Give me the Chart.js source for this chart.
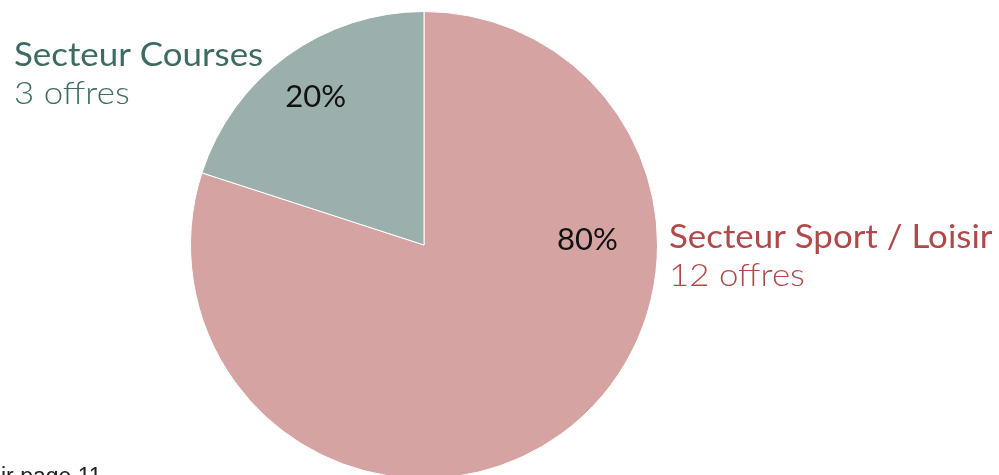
<!DOCTYPE html>
<html>
<head>
<meta charset="utf-8">
<script src="https://cdn.jsdelivr.net/npm/chart.js@4/dist/chart.umd.min.js"></script>
<style>
  html, body { margin: 0; padding: 0; background: #fff; overflow: hidden; }
  #wrap { width: 999px; height: 490px; position: relative; }
</style>
</head>
<body>
<div id="wrap"><canvas id="myChart"></canvas></div>
<script>
//  Data
var sectors = ["Secteur Sport / Loisir", "Secteur Courses"];
var offers = [12, 3];
var sliceColors = ["#d5a3a2", "#9bb0ad"];
var textColors = ["#b04a4a", "#3d6a62"];
var footnote = "Voir page 11";

// label spots, angle (deg, from 3 o'clock) and distance as fraction of radius
var pctSpots = [[-2, 0.70], [-126, 0.79]];
var nameSpots = [[669, 248], [14, 66]];

// text drawn a bit wider than Lato, to look like the original font
function wideText(ctx, txt, x, y, sx) {
  ctx.save();
  ctx.translate(x, y);
  ctx.scale(sx, 1);
  ctx.fillText(txt, 0, 0);
  ctx.restore();
}

var labelsPlugin = {
  id: "sectorLabels",
  afterDatasetsDraw: function(chart) {
    var ctx = chart.ctx;
    var arc = chart.getDatasetMeta(0).data[0];
    var cx = arc.x, cy = arc.y, r = arc.outerRadius;
    var total = offers.reduce(function(a, b) { return a + b; }, 0);
    ctx.save();
    ctx.textBaseline = "alphabetic";

    // percentages inside the slices
    ctx.fillStyle = "#111";
    ctx.font = "400 31px Lato";
    ctx.textAlign = "center";
    for (var i = 0; i < offers.length; i++) {
      var a = pctSpots[i][0] * Math.PI / 180;
      var px = cx + Math.cos(a) * r * pctSpots[i][1];
      var py = cy + Math.sin(a) * r * pctSpots[i][1];
      ctx.fillText(Math.round(offers[i] / total * 100) + "%", px, py + 11);
    }

    // sector names and counts
    ctx.textAlign = "left";
    for (var j = 0; j < sectors.length; j++) {
      ctx.fillStyle = textColors[j];
      ctx.font = "400 32px Lato";
      wideText(ctx, sectors[j], nameSpots[j][0], nameSpots[j][1], 1.09);
      ctx.font = "300 32px Lato";
      wideText(ctx, offers[j] + " offres", nameSpots[j][0], nameSpots[j][1] + 38, 1.09);
    }

    // footnote, half cut by the page edge
    ctx.fillStyle = "#222";
    ctx.font = "400 23px 'Liberation Sans'";
    ctx.fillText(footnote, 1 - ctx.measureText("Vo").width, 484);
    ctx.restore();
  }
};

new Chart("myChart", {
  type: "pie",
  data: {
    labels: sectors,
    datasets: [
      {
        data: offers,
        backgroundColor: sliceColors,
        borderColor: "#ffffff",
        borderWidth: 1,
      },
    ],
  },
  options: {
    responsive: true,
    maintainAspectRatio: false,
    animation: false,
    layout: { padding: { top: 11, bottom: 11, left: 190, right: 341 } },
    plugins: {
      legend: { display: false },
      tooltip: { enabled: false },
    },
  },
  plugins: [labelsPlugin],
});
</script>
</body>
</html>
